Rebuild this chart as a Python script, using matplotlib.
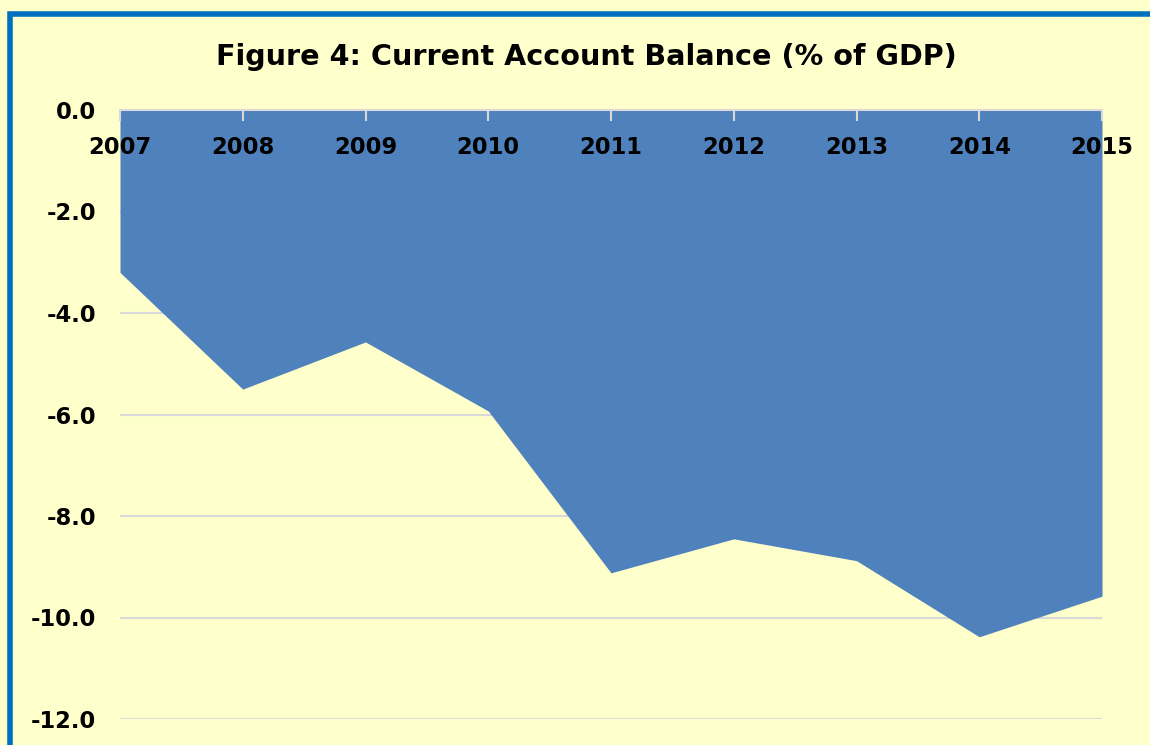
import matplotlib
matplotlib.use("Agg")
import matplotlib.pyplot as plt
from matplotlib.patches import Rectangle

years = [2007, 2008, 2009, 2010, 2011, 2012, 2013, 2014, 2015]
balance = [-3.2, -5.5, -4.57, -5.93, -9.12, -8.45, -8.88, -10.38, -9.58]
yticks = [0.0, -2.0, -4.0, -6.0, -8.0, -10.0, -12.0]
title = "Figure 4: Current Account Balance (% of GDP)"

bg = "#FFFFCC"
W, H = 1150, 745
plt.rcParams['font.family'] = ['DejaVu Sans']
fig = plt.figure(figsize=(W / 100, H / 100), dpi=100, facecolor=bg)

# blue frame
fig.patches.append(Rectangle((10 / W, -0.2), 1.2, 1.2 - 13.5 / H, transform=fig.transFigure,
                             fill=False, edgecolor="#0070C0", linewidth=4.0, zorder=0))

ax = fig.add_axes([120 / W, 1 - 719 / H, (1102 - 120) / W, (719 - 110) / H])
ax.set_facecolor(bg)
x = list(range(len(years)))
for v in yticks:
    ax.axhline(v, color="#D9D9D9", linewidth=1.5, zorder=1)
ax.fill_between(x, balance, 0, color="#4F81BD", linewidth=0, zorder=2)
ax.set_axisbelow(False)
ax.set_xlim(0, len(years) - 1)
ax.set_ylim(-12, 0)
ax.set_yticks(yticks)
ax.set_yticklabels([f"{v:.1f}" for v in yticks], fontsize=16.3, fontweight='bold')
ax.tick_params(axis='y', length=0, pad=17)
ax.xaxis.set_ticks_position('top')
ax.set_xticks(x)
ax.set_xticklabels([str(y) for y in years], fontsize=16.3, fontweight='bold')
ax.tick_params(axis='x', direction='in', length=8, color="#D9D9D9", width=1.5,
               pad=-35, top=True, bottom=False, labeltop=True, labelbottom=False)
for s in ['left', 'right', 'bottom']:
    ax.spines[s].set_visible(False)
ax.spines['top'].set_color("#D9D9D9")
ax.spines['top'].set_linewidth(1.5)

fig.text(586 / W, 1 - 57 / H, title, ha='center', va='center', fontsize=20.6, fontweight='bold')

fig.savefig("out.png", dpi=100, facecolor=bg)
